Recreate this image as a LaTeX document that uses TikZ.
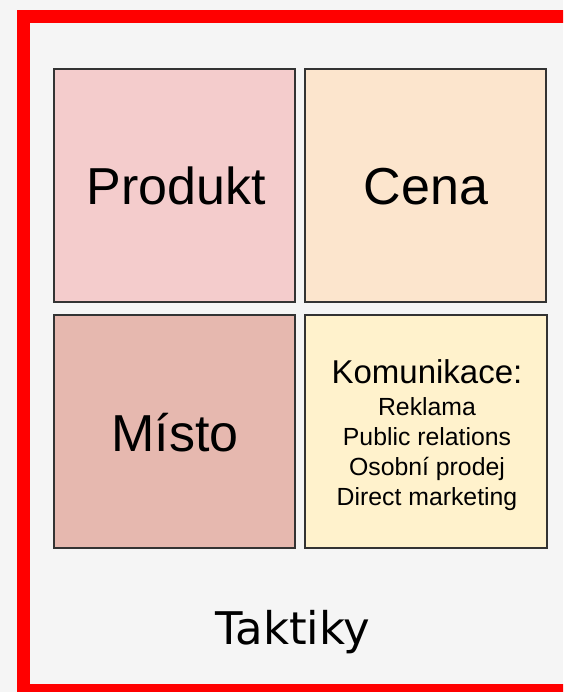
\documentclass[tikz,border=0pt]{standalone}
\usepackage{fontspec}
\setmainfont{Liberation Sans}
\newfontfamily\dejavu{DejaVu Sans}
\definecolor{bgc}{HTML}{F5F5F5}
\definecolor{redframe}{HTML}{FF0000}
\definecolor{cprod}{HTML}{F4CCCC}
\definecolor{ccena}{HTML}{FCE5CD}
\definecolor{cmisto}{HTML}{E6B8AF}
\definecolor{ckom}{HTML}{FFF2CC}
\definecolor{boxline}{HTML}{333333}
\tikzset{
  cell/.style={draw=boxline, line width=1.8pt, inner sep=0pt},
  bigtxt/.style={font=\fontsize{52}{60}\selectfont, inner sep=0pt, anchor=base},
  smalltxt/.style={font=\fontsize{24.8}{29}\selectfont, inner sep=0pt, anchor=base},
}
\begin{document}
\begin{tikzpicture}[x=1pt,y=-1pt]
\useasboundingbox (0,0) rectangle (563,692);
\begin{scope}
\clip (0,0) rectangle (563,692);
\fill[bgc] (0,0) rectangle (563,692);
\draw[redframe, line width=13pt] (23.5,16.5) rectangle (570,690.5);
\end{scope}
% cells
\path[cell, fill=cprod] (54,69) rectangle (295,302);
\path[cell, fill=ccena] (305,69) rectangle (546,302);
\path[cell, fill=cmisto] (54,315) rectangle (295,548);
\path[cell, fill=ckom] (305,315) rectangle (547,548);
% texts
\node[bigtxt] (produkt) at (176,205) {Produkt};
\node[bigtxt] (cena) at (426,205) {Cena};
\node[bigtxt] (misto) at (175,451) {Místo};
\node[font=\fontsize{33}{36}\selectfont, inner sep=0pt, anchor=base] (kom) at (427,383) {Komunikace:};
\node[smalltxt] (rekl) at (427,415) {Reklama};
\node[smalltxt] (pr) at (427,445) {Public relations};
\node[smalltxt] (op) at (427,475) {Osobní prodej};
\node[smalltxt] (dm) at (427,505) {Direct marketing};
\node[font=\dejavu\fontsize{45}{50}\selectfont, inner sep=0pt, anchor=base] (takt) at (293,644) {Taktiky};
\end{tikzpicture}
\end{document}
